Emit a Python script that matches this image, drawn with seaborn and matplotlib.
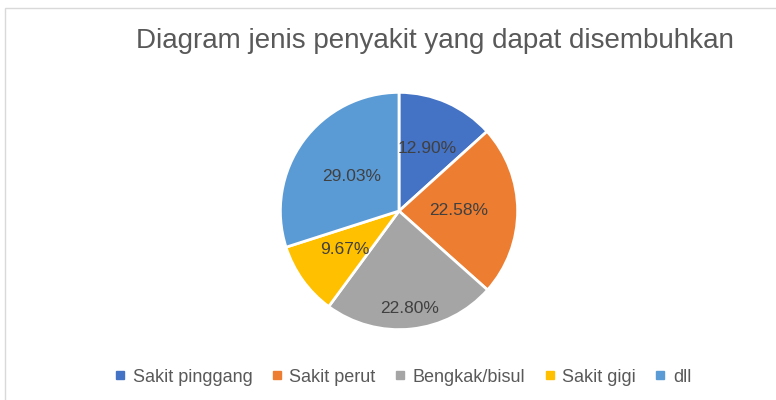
import matplotlib
matplotlib.use("Agg")
import numpy as np
import matplotlib.pyplot as plt
import seaborn as sns
from matplotlib.lines import Line2D
from matplotlib.patches import Rectangle

# data
categories = ['Sakit pinggang', 'Sakit perut', 'Bengkak/bisul', 'Sakit gigi', 'dll']
values = [12.90, 22.58, 22.80, 9.67, 29.03]
value_labels = ['12.90%', '22.58%', '22.80%', '9.67%', '29.03%']
colors = ['#4472C4', '#ED7D31', '#A5A5A5', '#FFC000', '#5B9BD5']
# label distance from centre (fraction of radius), "best fit" style
label_dist = [0.58, 0.50, 0.83, 0.56, 0.49]

sns.set_style('white')
plt.rcParams['font.family'] = ['Liberation Sans', 'DejaVu Sans']

W, H = 776, 400
fig = plt.figure(figsize=(W / 100, H / 100), dpi=100)

# chart frame
fig.patches.append(Rectangle((5 / W, -0.01), 1.0, 1 - 8 / H + 0.01,
                             transform=fig.transFigure, fill=False,
                             edgecolor='#d9d9d9', linewidth=1))

cx, cy, r = 399, 211, 121
ax = fig.add_axes([(cx - r) / W, (H - cy - r) / H, 2 * r / W, 2 * r / H])
wedges, _ = ax.pie(values, colors=colors, startangle=90, counterclock=False,
                   wedgeprops=dict(edgecolor='white', linewidth=2))
for w, lab, d in zip(wedges, value_labels, label_dist):
    ang = np.deg2rad((w.theta1 + w.theta2) / 2)
    ax.text(d * np.cos(ang), d * np.sin(ang), lab, ha='center', va='center',
            color='#404040', fontsize=12.5)
ax.set_xlim(-1.02, 1.02)
ax.set_ylim(-1.02, 1.02)
ax.axis('off')

fig.text(435 / W, 1 - 41 / H, 'Diagram jenis penyakit yang dapat disembuhkan',
         ha='center', va='center', fontsize=20, color='#595959')

handles = [Line2D([], [], marker='s', linestyle='', markersize=6,
                  markerfacecolor=c, markeredgecolor=c) for c in colors]
fig.legend(handles, categories, loc='center', bbox_to_anchor=(403 / W, 1 - 377 / H),
           ncol=5, frameon=False, fontsize=13, handlelength=0.6,
           handletextpad=0.4, columnspacing=1.05, labelcolor='#595959')

fig.savefig('out.png', dpi=100)
